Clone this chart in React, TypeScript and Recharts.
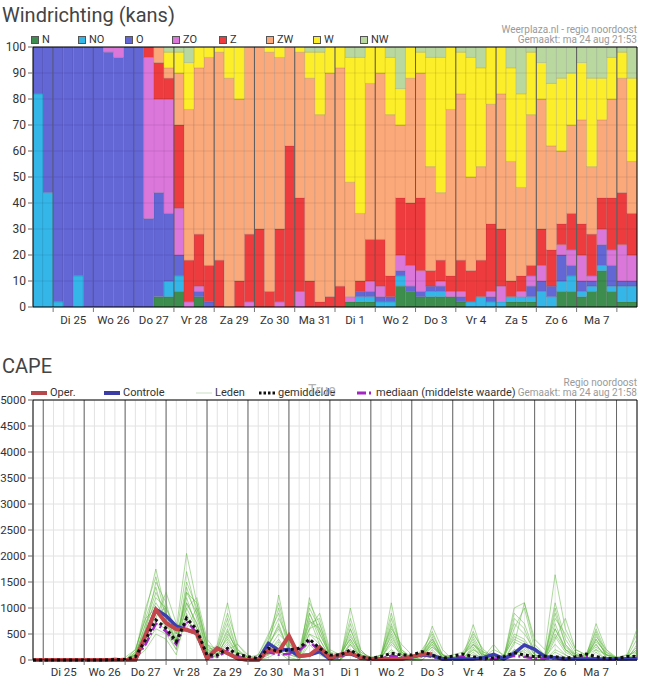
import React from 'react';
import { BarChart, Bar, LineChart, Line, XAxis, YAxis, CartesianGrid, ReferenceLine } from 'recharts';

const FONT = 'Roboto, "Liberation Sans", Arial, sans-serif';

// day labels, shared by both charts
const days = ['Di 25', 'Wo 26', 'Do 27', 'Vr 28', 'Za 29', 'Zo 30', 'Ma 31', 'Di 1', 'Wo 2', 'Do 3', 'Vr 4', 'Za 5', 'Zo 6', 'Ma 7'];

// wind direction chance (%), one value per 6-hour bar
const N = [0,0,0,0,0,0,0,0,0,0, 0,0,4,4,6,0,4,0,0,0, 0,0,0,0,0,0,0,0,0,0, 0,2,2,2,0,0,8,6,4,4, 4,4,2,0,0,0,0,2,2,2, 0,0,6,6,4,6,14,6,2,2];
const NO = [82,44,2,0,12,0,0,0,0,0, 0,0,0,6,6,0,0,0,0,0, 0,0,0,0,0,0,0,0,0,0, 0,0,2,2,2,2,4,0,0,2, 2,0,0,2,4,2,2,2,2,2, 6,4,4,6,2,2,2,2,6,6];
const O = [18,56,98,100,88,100,100,98,96,100, 100,34,40,26,8,0,2,2,0,0, 0,0,0,0,0,0,0,0,0,0, 0,0,2,2,2,2,2,2,2,2, 2,0,2,0,0,2,0,0,0,4, 4,4,10,4,4,2,8,8,2,2];
const ZO = [0,0,0,0,0,0,0,2,4,0, 0,62,36,44,18,2,2,0,0,0, 0,2,0,0,2,0,6,0,0,0, 0,2,0,4,4,0,6,8,8,0, 2,2,2,0,0,2,6,0,2,4, 6,0,4,6,10,2,6,6,14,10];
const Z = [0,0,0,0,0,0,0,0,0,0, 0,4,14,8,32,16,20,14,18,0, 10,26,30,6,28,62,36,10,2,4, 8,0,4,16,18,8,22,24,28,6, 8,6,12,12,14,26,22,6,6,4, 14,14,8,14,12,16,12,20,20,16];
const ZW = [0,0,0,0,0,0,0,0,0,0, 0,0,6,4,20,58,64,80,80,88, 70,72,70,92,66,38,56,78,72,86, 84,44,26,60,64,62,28,48,48,40, 26,64,64,36,36,46,52,46,34,58, 50,40,28,34,40,26,30,38,44,20];
const W = [0,0,0,0,0,0,0,0,0,0, 0,0,0,6,8,18,8,4,2,12, 20,0,0,2,4,0,2,10,24,10, 8,48,60,14,10,22,14,12,8,42, 52,24,16,46,38,22,18,36,36,24, 14,24,28,20,22,34,16,16,10,32];
const NW = [0,0,0,0,0,0,0,0,0,0, 0,0,0,2,2,6,0,0,0,0, 0,0,0,0,0,0,0,2,2,0, 0,4,4,0,0,4,16,0,2,4, 4,0,2,4,8,0,0,8,18,2, 6,14,12,10,6,12,12,4,2,12];

const directions = [
  { key: 'N', values: N, color: '#3c8d4e' },
  { key: 'NO', values: NO, color: '#35b6e9' },
  { key: 'O', values: O, color: '#6366d5' },
  { key: 'ZO', values: ZO, color: '#db76db' },
  { key: 'Z', values: Z, color: '#ee3c3e' },
  { key: 'ZW', values: ZW, color: '#fba97a' },
  { key: 'W', values: W, color: '#fdee2a' },
  { key: 'NW', values: NW, color: '#b9d89f' },
];

const windData = N.map((_, i) => {
  const row: any = { idx: i, pos: i + 0.5 };
  directions.forEach((d) => { row[d.key] = d.values[i]; });
  return row;
});

// CAPE (J/kg), one value per 6 hours
const oper = [0,0,0,0,0,0,0,0,0,0, 0,480,965,710,590,580,515,30,225,130, 30,0,0,195,160,465,75,95,245,40, 100,140,45,20,20,20,20,65,110,110, null,null,null,null,null,null,null,null,null,null, null,null,null,null,null,null,null,null,null,null];
const controle = [0,0,0,0,0,0,0,0,0,0, 0,480,975,850,650,580,515,30,225,130, 30,0,0,320,190,200,75,95,160,20, 100,120,45,20,20,20,20,60,100,85, 20,20,20,20,45,110,20,130,290,205, 65,45,20,20,20,20,20,20,20,20];
const gemiddelde = [0,0,0,0,0,0,0,0,10,10, 60,390,770,610,355,805,580,95,95,225, 110,65,30,225,160,195,225,400,225,95, 95,195,65,30,65,130,95,95,160,95, 30,75,115,65,30,45,65,140,95,65, 75,65,30,65,115,65,30,30,65,65];
const mediaan = [0,0,0,0,0,0,0,0,0,0, 20,300,700,550,300,750,520,50,60,180, 60,20,0,150,100,120,180,350,180,50, 50,150,30,0,30,80,50,50,100,60, 10,30,60,30,10,20,30,80,60,30, 40,30,10,30,60,30,10,10,30,30];

const m1 = [0,0,0,0,0,0,0,0,0,0, 150,900,1750,900,300,1300,900,200,150,400, 100,0,50,300,600,200,100,900,400,50, 100,500,100,0,50,300,100,50,150,400, 50,0,100,300,50,0,100,400,300,50, 100,500,200,50,100,300,50,0,50,200];
const m2 = [0,0,0,0,0,0,0,0,50,0, 100,600,1200,1000,600,2050,1100,300,100,200, 300,50,0,150,400,100,50,600,700,100, 50,300,50,0,100,900,200,0,100,250, 100,50,0,200,100,50,0,300,1100,400, 200,1640,600,200,100,200,100,50,0,100];
const m3 = [0,0,0,0,0,0,0,0,0,50, 200,800,1400,700,400,1000,600,100,300,1100, 200,0,0,200,1250,300,100,500,300,0, 0,200,100,50,0,500,100,0,50,650, 200,0,50,680,100,0,0,200,150,50, 50,300,100,0,50,700,200,0,50,600];
const m4 = [0,0,0,0,0,0,0,0,0,0, 80,500,1000,600,200,1400,800,200,100,300, 100,0,100,500,900,200,0,1200,500,100, 0,1000,200,0,50,700,150,50,100,300, 50,0,100,400,50,300,50,600,1000,200, 100,900,300,50,0,400,100,50,0,300];
const m5 = [0,0,0,0,0,0,0,0,0,0, 100,700,1100,800,500,1100,700,150,200,700, 150,50,0,100,300,100,200,1000,600,50, 50,700,150,50,0,400,50,0,200,500, 100,0,0,250,0,50,100,500,400,100, 50,700,200,100,50,500,50,0,100,150];
const m6 = [0,0,0,0,0,0,0,0,0,0, 50,400,800,1300,700,600,1000,300,100,200, 50,0,50,400,800,400,100,700,800,150, 100,400,50,0,100,600,300,100,50,350, 50,100,150,500,200,50,0,100,200,50, 0,400,800,200,100,250,100,0,50,100];
const m7 = [0,0,0,0,0,0,0,0,0,0, 120,600,1500,1100,400,1200,600,100,50,500, 200,50,0,250,700,150,50,800,300,50, 0,600,100,50,50,1100,100,50,100,450, 0,0,0,300,150,100,0,800,600,100, 0,600,200,50,100,350,150,50,0,50];
const m8 = [0,0,0,0,0,0,0,0,30,0, 60,300,600,500,200,800,500,50,100,350, 50,0,0,100,200,50,0,400,200,0, 0,300,50,0,0,200,50,0,0,200, 0,0,0,100,50,0,0,200,100,0, 0,200,100,0,0,200,0,0,0,100];
const m9 = [0,0,0,0,0,0,0,0,0,0, 150,1000,1600,800,300,1500,1000,250,150,600, 100,0,50,350,1000,250,100,1100,700,100, 50,800,200,0,50,800,200,50,150,550, 100,0,50,450,100,100,50,1000,1100,300, 100,1100,400,100,50,600,150,0,50,400];
const m10 = [0,0,0,0,0,0,0,0,0,0, 90,500,900,1000,500,1700,900,200,250,900, 300,100,0,200,500,300,150,600,900,200, 100,400,100,50,100,450,100,50,100,300, 50,50,100,350,50,200,100,700,500,200, 100,800,500,150,50,450,200,50,50,250];
const m11 = [0,0,0,0,0,0,0,0,0,0, 30,200,500,400,100,900,400,100,50,250, 0,0,0,50,150,0,0,300,100,0, 0,150,0,0,0,150,0,0,0,150, 0,0,0,150,0,0,0,150,50,0, 0,150,50,0,0,150,0,0,0,50];
const m12 = [0,0,0,0,0,0,0,0,0,0, 110,700,1300,900,350,1300,1100,300,200,800, 150,50,100,450,1100,350,50,900,500,100, 50,600,100,0,100,650,150,0,100,400, 100,0,50,550,150,50,50,900,700,150, 50,1000,300,100,100,550,100,50,100,500];
const m13 = [0,0,0,0,0,0,0,0,0,0, 50,350,700,600,300,1100,700,150,100,450, 100,0,0,150,350,100,50,500,400,50, 0,350,50,0,50,350,100,0,50,250, 50,0,50,200,50,0,0,350,250,50, 50,450,150,50,50,300,50,0,0,150];
const m14 = [0,0,0,0,0,0,0,0,0,0, 200,800,1000,700,300,1000,1200,400,150,550, 150,50,50,300,650,200,100,750,600,100, 50,450,150,50,50,550,150,50,100,350, 100,50,100,300,100,50,50,450,350,100, 50,600,250,100,50,400,100,0,50,200];
const members = [m1, m2, m3, m4, m5, m6, m7, m8, m9, m10, m11, m12, m13, m14];

const capeData = controle.map((_, i) => {
  const row: any = { i, oper: oper[i], controle: controle[i], gem: gemiddelde[i], med: mediaan[i] };
  members.forEach((m, k) => { row['m' + k] = m[i]; });
  return row;
});

const windYTicks = [0, 10, 20, 30, 40, 50, 60, 70, 80, 90, 100];
const capeYTicks = [0, 500, 1000, 1500, 2000, 2500, 3000, 3500, 4000, 4500, 5000];

// top chart: bars 0..60, day boundaries every 4 bars starting at 2
const windBounds = Array.from({ length: days.length + 1 }, (_, k) => 2 + 4 * k);
const windTicks = Array.from({ length: days.length * 2 + 1 }, (_, k) => 2 + 2 * k);
// CAPE chart: points 0..59, day boundaries at 1, 5, 9 ...
const capeBounds = Array.from({ length: days.length + 1 }, (_, k) => 1 + 4 * k);
const capeTicks = capeData.map((d) => d.i);

const WindTick = ({ x, y, payload }: any) => {
  const v = payload.value;
  if ((v - 2) % 4 === 0) return <line x1={x} x2={x} y1={y} y2={y + 5} stroke="#777" />;
  return (
    <text x={x} y={y + 16.5} textAnchor="middle" fontSize={11.5} fill="#333" fontFamily={FONT}>
      {days[(v - 4) / 4]}
    </text>
  );
};

const CapeTick = ({ x, y, payload }: any) => {
  const v = payload.value;
  if ((v - 1) % 4 === 0) return <line x1={x} x2={x} y1={y} y2={y + 5} stroke="#777" />;
  if ((v - 3) % 4 === 0 && days[(v - 3) / 4]) {
    return (
      <text x={x} y={y + 16} textAnchor="middle" fontSize={11.5} fill="#333" fontFamily={FONT}>
        {days[(v - 3) / 4]}
      </text>
    );
  }
  return <g />;
};

const capeLegend = [
  { name: 'Oper.', left: 31, color: '#b5484a', width: 4, dash: undefined },
  { name: 'Controle', left: 104, color: '#3b3ca6', width: 4, dash: undefined },
  { name: 'Leden', left: 196, color: '#c9ddc3', width: 1, dash: undefined },
  { name: 'gemiddelde', left: 259, color: '#111', width: 3, dash: '2.5 2' },
  { name: 'mediaan (middelste waarde)', left: 357, color: '#a424c4', width: 3, dash: '9 3 2 3' },
];

const noteStyle: React.CSSProperties = {
  position: 'absolute', right: 11, fontSize: 10, lineHeight: '10px', color: '#9a9a9a', fontFamily: FONT, textAlign: 'right', whiteSpace: 'nowrap',
};

export default function App() {
  return (
    <div style={{ position: 'absolute', left: 0, top: 0, width: 648, height: 685, background: '#fff', fontFamily: FONT, overflow: 'hidden' }}>
      {/* wind direction chart */}
      <div style={{ position: 'absolute', left: 0, top: 0 }}>
        <BarChart width={648} height={340} data={windData} margin={{ top: 47, right: 11, left: 8, bottom: 3 }} barCategoryGap={0} barGap={0}>
          <XAxis dataKey="idx" hide height={0} />
          <XAxis
            xAxisId="t"
            type="number"
            dataKey="pos"
            domain={[0, 60]}
            allowDataOverflow
            ticks={windTicks}
            interval={0}
            tick={<WindTick />}
            tickLine={false}
            tickSize={0}
            tickMargin={0}
            axisLine={{ stroke: '#000' }}
            height={30}
          />
          <YAxis
            domain={[0, 100]}
            ticks={windYTicks}
            interval={0}
            width={25}
            tickSize={5}
            axisLine={{ stroke: '#000' }}
            tickLine={{ stroke: '#666' }}
            tick={{ fontSize: 12, fill: '#333', fontFamily: FONT }}
          />
          {directions.map((d) => (
            <Bar
              key={d.key}
              dataKey={d.key}
              stackId="wind"
              fill={d.color}
              stroke="rgba(0,0,0,0.13)"
              strokeWidth={0.8}
              isAnimationActive={false}
            />
          ))}
          {windYTicks.slice(1, -1).map((v) => (
            <ReferenceLine key={'g' + v} xAxisId="t" y={v} stroke="rgba(0,0,0,0.09)" />
          ))}
          {windBounds.map((b) => (
            <ReferenceLine key={'d' + b} xAxisId="t" x={b} stroke="#5c5c5c" />
          ))}
          <ReferenceLine xAxisId="t" y={100} stroke="#000" />
          <ReferenceLine xAxisId="t" x={60} stroke="#000" />
        </BarChart>
      </div>

      <div style={{ position: 'absolute', left: 2, top: 5, fontSize: 20, lineHeight: '20px', color: '#444' }}>Windrichting (kans)</div>
      {directions.map((d, k) => (
        <div key={d.key} style={{ position: 'absolute', left: 31 + 47 * k, top: 35, height: 10, display: 'flex', alignItems: 'center' }}>
          <span style={{ width: 6, height: 6, border: '1px solid #555', background: d.color, marginRight: 3 }} />
          <span style={{ fontSize: 11, lineHeight: '10px', color: '#333' }}>{d.key}</span>
        </div>
      ))}
      <div style={{ ...noteStyle, top: 25 }}>Weerplaza.nl - regio noordoost</div>
      <div style={{ ...noteStyle, top: 35 }}>Gemaakt: ma 24 aug 21:53</div>

      {/* CAPE chart */}
      <div style={{ position: 'absolute', left: 0, top: 345 }}>
        <LineChart width={648} height={340} data={capeData} margin={{ top: 55, right: 11, left: 8, bottom: 5 }}>
          <CartesianGrid stroke="#e2e2e2" />
          <XAxis
            dataKey="i"
            type="number"
            domain={[0, 59]}
            allowDataOverflow
            ticks={capeTicks}
            interval={0}
            tick={<CapeTick />}
            tickLine={false}
            tickSize={0}
            tickMargin={0}
            axisLine={{ stroke: '#000' }}
            height={20}
          />
          <YAxis
            domain={[0, 5000]}
            ticks={capeYTicks}
            interval={0}
            width={25}
            tickSize={5}
            axisLine={{ stroke: '#000' }}
            tickLine={{ stroke: '#666' }}
            tick={{ fontSize: 11.5, fill: '#333', fontFamily: FONT }}
          />
          {capeBounds.map((b) => (
            <ReferenceLine key={'d' + b} x={b} stroke="#666" />
          ))}
          <ReferenceLine y={5000} stroke="#000" />
          <ReferenceLine x={59} stroke="#000" />
          {members.map((_, k) => (
            <Line
              key={'m' + k}
              dataKey={'m' + k}
              stroke="#5db53d"
              strokeOpacity={0.5}
              strokeWidth={1}
              dot={false}
              isAnimationActive={false}
            />
          ))}
          <Line dataKey="med" stroke="#a424c4" strokeWidth={2.5} strokeDasharray="9 3 2 3" dot={false} isAnimationActive={false} />
          <Line dataKey="controle" stroke="#3b3eb0" strokeWidth={3.5} dot={false} isAnimationActive={false} />
          <Line dataKey="oper" stroke="#c4474b" strokeWidth={4} dot={false} isAnimationActive={false} />
          <Line dataKey="gem" stroke="#111" strokeWidth={3} strokeDasharray="3 3" dot={false} isAnimationActive={false} />
        </LineChart>
      </div>

      <div style={{ position: 'absolute', left: 2, top: 356, fontSize: 20, lineHeight: '20px', color: '#444' }}>CAPE</div>
      {capeLegend.map((s) => (
        <div key={s.name} style={{ position: 'absolute', left: s.left, top: 388, height: 10, display: 'flex', alignItems: 'center' }}>
          <svg width={16} height={6} style={{ marginRight: 3 }}>
            <line x1={0} x2={16} y1={3} y2={3} stroke={s.color} strokeWidth={s.width} strokeDasharray={s.dash} />
          </svg>
          <span style={{ fontSize: 11, lineHeight: '10px', color: '#333', whiteSpace: 'nowrap' }}>{s.name}</span>
        </div>
      ))}
      <div style={{ position: 'absolute', left: 308, top: 383, fontSize: 14, lineHeight: '14px', color: '#b3b3b3' }}>True</div>
      <div style={{ ...noteStyle, top: 378 }}>Regio noordoost</div>
      <div style={{ ...noteStyle, top: 388 }}>Gemaakt: ma 24 aug 21:58</div>
    </div>
  );
}
